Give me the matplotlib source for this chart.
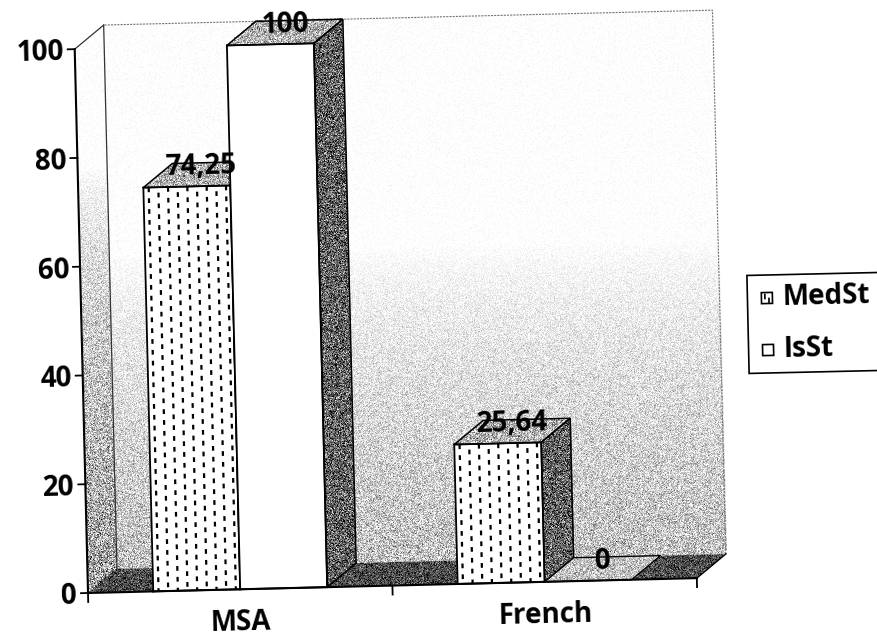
import numpy as np
import matplotlib
matplotlib.use("Agg")
import matplotlib.pyplot as plt
from matplotlib.patches import Polygon, Rectangle
from matplotlib.lines import Line2D
from matplotlib.path import Path
from matplotlib.transforms import Affine2D

# ---- data -------------------------------------------------------------
categories = ["MSA", "French"]
series_names = ["MedSt", "IsSt"]
medst = [74.25, 25.64]
isst = [100, 0]
medst_labels = ["74,25", "25,64"]
isst_labels = ["100", "0"]
y_ticks = [0, 20, 40, 60, 80, 100]

# ---- figure / frame ---------------------------------------------------
plt.rcParams["lines.scale_dashes"] = False
FONT = dict(family=["Open Sans", "DejaVu Sans"], weight="bold", size=20)

W, H = 878, 639
fig = plt.figure(figsize=(W / 100, H / 100), dpi=100)
fig.patch.set_facecolor("white")
ax = fig.add_axes([88 / W, (H - 593) / H, 609 / W, 544 / H])
ax.set_xlim(0, 2)
ax.set_ylim(0, 100)
ax.axis("off")

tilt = 1.4                      # the whole plot sits slightly rotated
ox, oy = ax.transData.transform((0, 0))
T = ax.transData + Affine2D().rotate_deg_around(ox, oy, tilt)

DX, DY = 0.097, 4.3             # depth offset of the 3-D box (data units)
PX_X, PX_Y = 609 / 2, 544 / 100  # pixels per data unit
BAR_W = 1 / 3.5                 # gap width 150 %
GAP = (1 - 2 * BAR_W) / 2
rng = np.random.default_rng(11)


def textured(verts, shade, z, grain=1.0):
    """Fill a polygon with a stippled grey whose darkness follows `shade(y)`."""
    verts = np.asarray(verts, float)
    (xmin, ymin), (xmax, ymax) = verts.min(0), verts.max(0)
    nx = max(2, int(round((xmax - xmin) * PX_X)))
    ny = max(2, int(round((ymax - ymin) * PX_Y)))
    xs = xmin + (np.arange(nx) + 0.5) * (xmax - xmin) / nx
    ys = ymax - (np.arange(ny) + 0.5) * (ymax - ymin) / ny
    gx, gy = np.meshgrid(xs, ys)
    inside = Path(verts).contains_points(np.c_[gx.ravel(), gy.ravel()],
                                         radius=1e-9).reshape(ny, nx)
    tone = np.asarray(shade(gy), float)          # 1 = white, 0 = black
    dark = 1 - tone
    # stipple: random dots whose density follows the local darkness
    spread = grain * np.minimum(dark, 1 - dark) * 0.9 + 0.02
    val = np.clip(tone + rng.normal(0, 1, (ny, nx)) * spread, 0, 1)
    rgba = np.zeros((ny, nx, 4))
    rgba[..., 0] = rgba[..., 1] = rgba[..., 2] = val
    rgba[..., 3] = inside.astype(float)
    im = ax.imshow(rgba, aspect="auto", extent=(xmin, xmax, ymin, ymax),
                   interpolation="nearest", zorder=z, clip_on=False)
    im.set_transform(T)
    return im


def outline(verts, z, lw=1.1, color="black", closed=True, ls="-"):
    verts = np.asarray(verts, float)
    if closed:
        verts = np.vstack([verts, verts[:1]])
    ax.add_line(Line2D(verts[:, 0], verts[:, 1], transform=T, color=color,
                       lw=lw, ls=ls, zorder=z, clip_on=False,
                       solid_joinstyle="miter"))


def flat(verts, color, z):
    ax.add_patch(Polygon(verts, closed=True, transform=T, facecolor=color,
                         edgecolor="none", zorder=z, clip_on=False))


def const(v):
    return lambda y: np.full_like(y, v)


# ---- walls and floor --------------------------------------------------
back = [(DX, DY), (2 + DX, DY), (2 + DX, 100 + DY), (DX, 100 + DY)]
left = [(0, 0), (DX, DY), (DX, 100 + DY), (0, 100)]
floor = [(0, 0), (2, 0), (2 + DX, DY), (DX, DY)]

textured(back, lambda y: 1 - 0.26 * np.clip((62 - y) / 62, 0, 1) ** 0.8, 1, 0.7)
textured(left, lambda y: 1 - 0.38 * np.clip((78 - y) / 78, 0, 1) ** 0.7, 1, 0.7)
textured(floor, const(0.30), 1.5, 0.5)

outline([(2 + DX, DY), (2 + DX, 100 + DY), (DX, 100 + DY)], 2,
        lw=0.8, color="0.45", closed=False, ls=(0, (1.5, 0.8)))
outline([(DX, DY), (DX, 100 + DY)], 2, lw=0.9, color="0.2", closed=False)
outline([(0, 100), (DX, 100 + DY)], 2, lw=0.9, color="0.2", closed=False)
outline([(2, 0), (2 + DX, DY)], 2, lw=1.0, closed=False)

# ---- bars -------------------------------------------------------------
z = 3.0
for i in range(len(categories)):
    for j, (vals, labels) in enumerate([(medst, medst_labels), (isst, isst_labels)]):
        h = vals[i]
        xl = i + GAP + j * BAR_W
        xr = xl + BAR_W
        front = [(xl, 0), (xr, 0), (xr, h), (xl, h)]
        top = [(xl, h), (xr, h), (xr + DX, h + DY), (xl + DX, h + DY)]
        side = [(xr, 0), (xr + DX, DY), (xr + DX, h + DY), (xr, h)]
        if h > 0:
            textured(side, const(0.38), z, 0.6)
            textured(top, const(0.70), z, 0.6)
            flat(front, "white", z + 0.1)
            if j == 0:
                ncol = 9
                for k in range(ncol):
                    xc = xl + (k + 0.55) / ncol * BAR_W
                    off = 0.0 if k % 2 == 0 else 3.9
                    ax.add_line(Line2D([xc, xc], [h, 0], transform=T,
                                       color="black", lw=1.6,
                                       ls=(off, (3.4, 4.4)),
                                       dash_capstyle="butt",
                                       zorder=z + 0.15, clip_on=False))
            outline(side, z + 0.2)
            outline(top, z + 0.2)
            outline(front, z + 0.2, lw=1.3)
        else:
            textured(top, const(0.76), z, 0.6)
            outline(top, z + 0.2, lw=1.0)
        ax.text(xl + BAR_W / 2 + DX / 2, h + DY / 2, labels[i], transform=T,
                ha="center", va="baseline", rotation=tilt,
                rotation_mode="anchor", zorder=20, **FONT)
        z += 1

# ---- axes lines, ticks and labels ------------------------------------
outline([(0, 0), (2, 0)], 15, lw=1.5, closed=False)
outline([(0, 0), (0, 100)], 15, lw=1.5, closed=False)
tick_x = 7 / PX_X
for v in y_ticks:
    outline([(-tick_x, v), (0, v)], 15, lw=1.3, closed=False)
    ax.text(-11 / PX_X, v - 0.6, str(v), transform=T, ha="right", va="center",
            rotation=tilt, rotation_mode="anchor", **FONT)
for xt in range(len(categories) + 1):
    outline([(xt, 0), (xt, -9 / PX_Y)], 15, lw=1.3, closed=False)
for i, name in enumerate(categories):
    ax.text(i + 0.5, -41 / PX_Y, name, transform=T, ha="center", va="baseline",
            rotation=tilt, rotation_mode="anchor", **FONT)

# ---- legend -----------------------------------------------------------
pix = Affine2D().scale(1 / W, -1 / H).translate(0, 1) + fig.transFigure
lt = Affine2D().rotate_deg_around(812, 323, -1.3) + pix
fig.add_artist(Rectangle((748, 274), 260, 98, transform=lt, facecolor="white",
                         edgecolor="black", lw=1.2))
for name, yc, dashed in [(series_names[0], 297, True), (series_names[1], 349, False)]:
    fig.add_artist(Rectangle((762, yc - 5.5), 11, 11, transform=lt,
                             facecolor="white", edgecolor="black", lw=1.2))
    if dashed:
        for xm, y0, y1 in [(765.5, yc - 3.5, yc + 0.5), (769.5, yc + 0.5, yc + 4.5)]:
            fig.add_artist(Line2D([xm, xm], [y0, y1], transform=lt,
                                  color="black", lw=1.2))
    fig.text(783, yc, name, transform=lt, ha="left", va="center",
             rotation=1.3, rotation_mode="anchor", **FONT)

ax.set_xlim(0, 2)
ax.set_ylim(0, 100)
fig.savefig("out.png", dpi=100, facecolor="white")
